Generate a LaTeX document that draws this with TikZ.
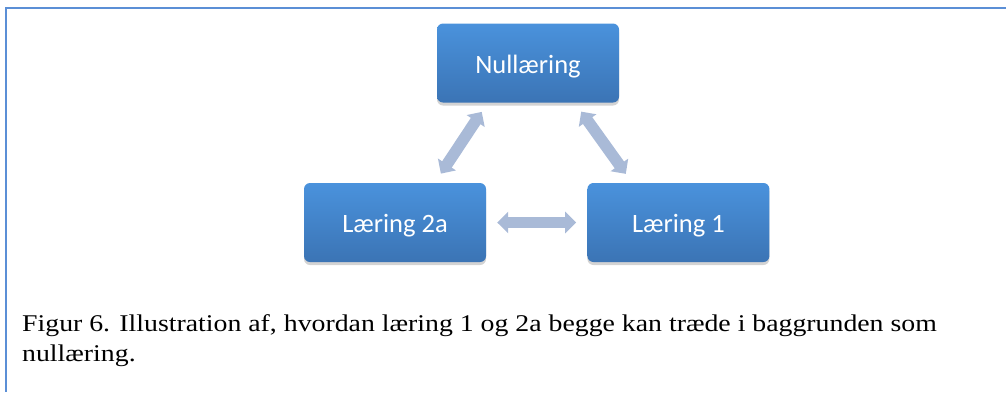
\documentclass[tikz,border=0pt]{standalone}
\usepackage{fontspec}
\setmainfont{Carlito}
\newfontfamily\capfont[FakeStretch=1.158]{Liberation Serif}
\usepackage{tikz}
\usetikzlibrary{positioning, arrows.meta, shadows}
\definecolor{frameblue}{HTML}{5B8FD6}
\definecolor{boxtop}{HTML}{4A92DC}
\definecolor{boxbot}{HTML}{3B74B5}
\definecolor{arrowblue}{HTML}{A9BAD7}
\tikzset{box_t/.style={rounded corners=6pt, top color=boxtop, bottom color=boxbot, text=white, font=\fontsize{26.5}{30}\selectfont, text height=20pt, text depth=0pt, minimum width=182pt, minimum height=79pt, drop shadow={shadow xshift=0pt, shadow yshift=-3pt, opacity=0.35}},
link_t/.style={{Triangle[width=21pt,length=11pt]}-{Triangle[width=21pt,length=11pt]}, line width=11.5pt, draw=arrowblue, shorten <=11pt, shorten >=11pt},
frame_t/.style={draw=frameblue, line width=2pt}}

\begin{document}
\begin{tikzpicture}[x=1pt, y=-1pt]
  \useasboundingbox (0,0) rectangle (1006,392);
  % frame
  \draw[frame_t] (1006,8) -- (6,8) -- (6,392);
  % boxes
  \node[box_t] (null) at (528,63) {Nullæring};
  \node[box_t] (l2a) at (395,222.5) {Læring 2a};
  \node[box_t, right=101pt of l2a] (l1) {Læring 1};
  % links
  \draw[link_t] ([xshift=51pt]null.south west) -- ([xshift=131pt]l2a.north west);
  \draw[link_t] ([xshift=138pt]null.south west) -- ([xshift=45pt]l1.north west);
  \draw[link_t] (l2a) -- (l1);
  % caption
  \node[anchor=base west, align=left, inner sep=0pt, font=\capfont\fontsize{24}{30}\selectfont] (cap) at (22,361) {Figur 6. Illustration af, hvordan læring 1 og 2a begge kan træde i baggrunden som\\ nullæring.};
\end{tikzpicture}
\end{document}
